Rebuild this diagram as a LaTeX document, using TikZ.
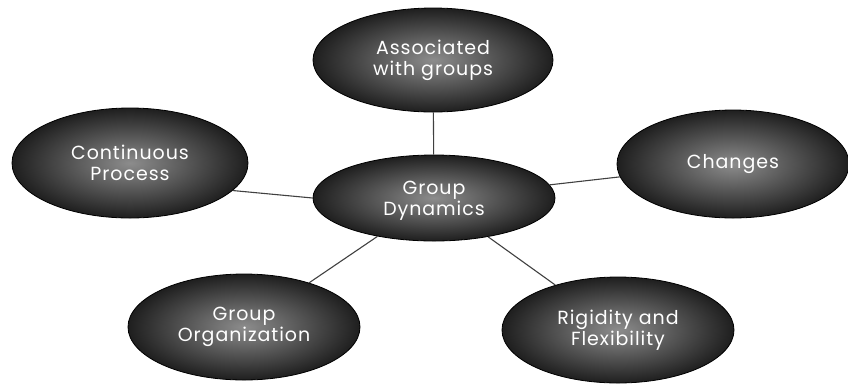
\documentclass[tikz,border=0pt]{standalone}
\usepackage{fontspec}
\setmainfont{Poppins}[LetterSpace=5]
\usetikzlibrary{shapes.geometric}
\begin{document}
\begin{tikzpicture}[x=1pt,y=-1pt,
  bubble/.style={ellipse, inner sep=0pt, draw=black, line width=0.8pt,
    inner color=black!45, outer color=black!88,
    text=white, align=center, font=\fontsize{19}{21}\selectfont},
  link/.style={draw=black!75, line width=1.1pt}]
\useasboundingbox (0,0) rectangle (848,384);
\node[bubble, minimum width=240pt, minimum height=104pt] (top) at (433,60) {Associated\\with groups};
\node[bubble, minimum width=236pt, minimum height=110pt] (left) at (130,163) {Continuous\\Process};
\node[bubble, minimum width=232pt, minimum height=108pt] (right) at (733,164) {Changes};
\node[bubble, minimum width=232pt, minimum height=106pt] (bl) at (244,327) {Group\\Organization};
\node[bubble, minimum width=232pt, minimum height=106pt] (br) at (618,330) {Rigidity and\\Flexibility};
\node[bubble, minimum width=242pt, minimum height=86pt, text depth=-14pt] (mid) at (434,198) {Group\\Dynamics};
\draw[link] (top) -- (mid);
\draw[link] (left.-15) -- (mid.west);
\draw[link] (right) -- (mid);
\draw[link] (bl) -- (mid);
\draw[link] (br) -- (mid);
\end{tikzpicture}
\end{document}
